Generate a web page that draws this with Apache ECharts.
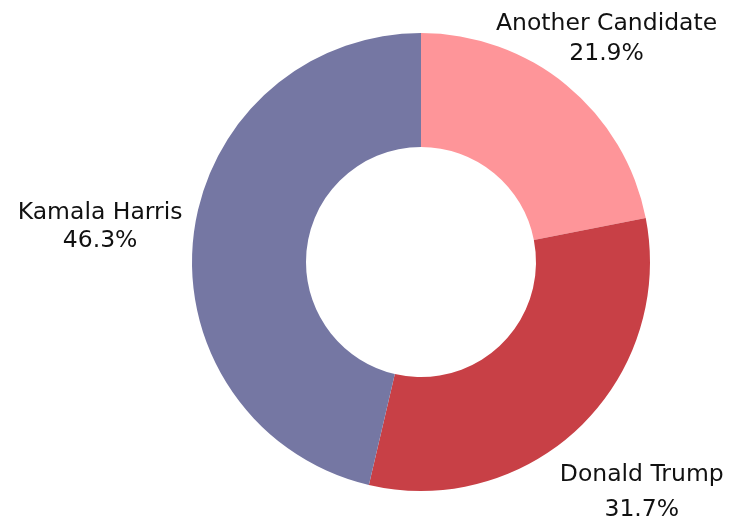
<!DOCTYPE html>
<html>
<head>
<meta charset="utf-8">
<title>Poll share donut</title>
<script src="https://cdn.jsdelivr.net/npm/echarts@6/dist/echarts.min.js"></script>
<style>
  html, body { margin: 0; padding: 0; background: #ffffff; }
  #chart { width: 739px; height: 523px; }
</style>
</head>
<body>
<div id="chart"></div>
<script>
// Candidate shares, in percent, clockwise from 12 o'clock
const candidates = ['Another Candidate', 'Donald Trump', 'Kamala Harris'];
const shares = [21.9, 31.7, 46.3];
const sliceColors = ['#fe9599', '#c84046', '#7577a3'];

// Per-slice label placement: distance of the label centre beyond the outer rim, and line spacing
const labelOffsets = [63, 89, 94];
const labelLineHeights = [30, 35, 28];

// Donut geometry
const CENTER = [421, 262];
const INNER_R = 115;
const OUTER_R = 229;
const START_ANGLE = 90;
// small downward nudge so the glyphs' optical centre sits on the ray
const LABEL_BASELINE_NUDGE = 2;

const total = shares.reduce((a, b) => a + b, 0);
// mid-angle (degrees, counter-clockwise from 3 o'clock) of each slice, walking clockwise
const midAngles = [];
let acc = 0;
shares.forEach(v => {
  midAngles.push(START_ANGLE - 360 * (acc + v / 2) / total);
  acc += v;
});

const chart = echarts.init(document.getElementById('chart'), null, { renderer: 'canvas' });

const textStyle = { fontSize: 23.5, fontFamily: 'DejaVu Sans', color: '#111111' };

const data = candidates.map((name, i) => ({
  name: name,
  value: shares[i],
  itemStyle: { color: sliceColors[i] },
  label: {
    rich: {
      n: Object.assign({ align: 'center', lineHeight: labelLineHeights[i] }, textStyle),
      p: Object.assign({ align: 'center', lineHeight: labelLineHeights[i] }, textStyle)
    }
  }
}));

chart.setOption({
  backgroundColor: '#ffffff',
  animation: false,
  series: [{
    type: 'pie',
    center: CENTER,
    radius: [INNER_R, OUTER_R],
    startAngle: START_ANGLE,
    clockwise: true,
    avoidLabelOverlap: false,
    silent: true,
    emphasis: { disabled: true },
    itemStyle: { borderWidth: 0 },
    labelLine: { show: false },
    label: {
      show: true,
      position: 'outside',
      width: 280,
      formatter: '{n|{b}}\n{p|{c}%}'
    },
    // centre each two-line label on the ray through its slice's mid-angle
    labelLayout: function (p) {
      const i = p.dataIndex;
      const a = midAngles[i] * Math.PI / 180;
      const d = OUTER_R + labelOffsets[i];
      return {
        x: CENTER[0] + d * Math.cos(a),
        y: CENTER[1] - d * Math.sin(a) + LABEL_BASELINE_NUDGE,
        align: 'center',
        verticalAlign: 'middle'
      };
    },
    data: data
  }]
});
</script>
</body>
</html>
